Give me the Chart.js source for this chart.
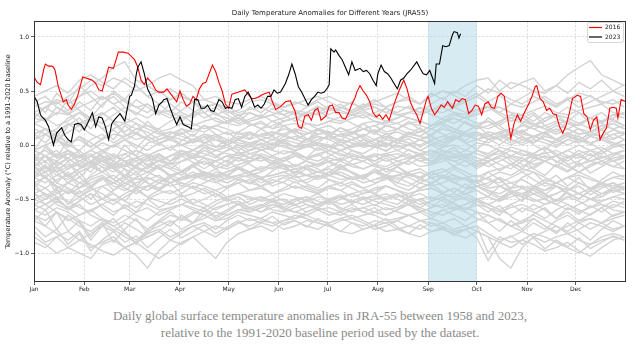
<!DOCTYPE html>
<html><head><meta charset="utf-8">
<script src="https://cdn.jsdelivr.net/npm/chart.js@4.4.0/dist/chart.umd.min.js"></script>
<style>
html,body{margin:0;padding:0;background:#fff;}
#wrap{position:relative;width:640px;height:348px;overflow:hidden;}
#c{position:absolute;left:0;top:0;}
#cap{position:absolute;left:0;top:307px;width:640px;text-align:center;font-family:"Liberation Serif",serif;font-size:13px;line-height:17px;color:#8a8a8a;}
</style></head><body>
<div id="wrap"><canvas id="c" width="640" height="300"></canvas>
<div id="cap">Daily global surface temperature anomalies in JRA-55 between 1958 and 2023,<br>relative to the 1991-2020 baseline period used by the dataset.</div></div>
<script>
const chartTitle = 'Daily Temperature Anomalies for Different Years (JRA55)';
const yAxisTitle = 'Temperature Anomaly (°C) relative to a 1991-2020 baseline';
const monthStarts = [0,31,59,90,120,151,181,212,243,273,304,334];
const monthLabels = ['Jan','Feb','Mar','Apr','May','Jun','Jul','Aug','Sep','Oct','Nov','Dec'];
const yTicks = [-1.0,-0.5,0.0,0.5,1.0];
const spanDays = [243, 273];
const legendOrder = ['2016','2023'];

const days2016 = [0,2,4,6,7,9,11,12,13,15,
17,18,20,21,23,25,27,30,32,34,
36,38,40,42,44,46,49,52,55,58,
60,62,64,66,68,70,73,75,77,80,
82,85,88,90,92,94,96,98,100,102,
104,106,108,110,112,114,116,118,120,122,
124,128,130,132,134,136,138,140,143,145,
147,149,152,155,158,161,163,165,167,169,
171,173,175,177,180,182,184,186,188,190,
192,194,196,198,199,201,203,205,207,209,
211,213,215,217,219,221,223,225,227,228,
230,232,234,236,238,240,242,243,245,247,
249,251,253,255,258,260,262,264,266,268,
270,272,274,276,278,280,282,284,286,288,
290,292,294,296,298,300,302,305,307,309,
310,312,314,316,318,320,322,324,326,328,
330,332,335,337,339,341,343,345,347,349,
351,353,355,357,359,360,362,365];
const anom2016 = [0.63,0.58,0.56,0.70,0.75,0.73,0.73,0.72,0.69,0.54,
0.45,0.40,0.42,0.37,0.33,0.38,0.46,0.63,0.62,0.61,
0.60,0.57,0.51,0.50,0.60,0.72,0.71,0.86,0.86,0.85,
0.82,0.79,0.72,0.60,0.56,0.62,0.57,0.51,0.49,0.49,
0.52,0.46,0.40,0.50,0.42,0.36,0.38,0.45,0.42,0.52,
0.57,0.58,0.66,0.74,0.68,0.58,0.50,0.38,0.34,0.47,
0.48,0.50,0.51,0.47,0.43,0.43,0.44,0.46,0.48,0.49,
0.40,0.33,0.355,0.40,0.41,0.31,0.17,0.155,0.27,0.28,
0.23,0.32,0.34,0.23,0.27,0.36,0.37,0.30,0.30,0.25,
0.24,0.30,0.38,0.44,0.49,0.55,0.50,0.46,0.40,0.30,
0.26,0.28,0.24,0.28,0.23,0.33,0.42,0.50,0.57,0.60,
0.52,0.40,0.33,0.28,0.20,0.31,0.42,0.45,0.34,0.28,
0.32,0.37,0.35,0.40,0.34,0.42,0.40,0.43,0.42,0.29,
0.32,0.37,0.36,0.28,0.38,0.40,0.35,0.34,0.45,0.48,
0.45,0.25,0.06,0.20,0.28,0.22,0.29,0.38,0.45,0.54,
0.55,0.43,0.40,0.32,0.34,0.29,0.28,0.17,0.11,0.18,
0.29,0.43,0.46,0.45,0.29,0.26,0.14,0.23,0.26,0.05,
0.11,0.16,0.34,0.35,0.34,0.25,0.42,0.40];

const days2023 = [0,2,4,5,7,9,12,14,17,19,
21,23,25,27,29,31,33,36,38,40,
42,44,46,48,50,53,56,59,60,62,
63,64,66,68,70,71,73,75,77,79,
80,82,84,86,88,90,92,95,97,99,
101,103,105,107,109,111,114,116,118,120,
122,124,126,128,130,132,134,136,138,140,
142,144,146,148,150,152,155,157,159,161,
163,165,167,169,171,173,175,177,179,181,
182,183,185,186,188,190,192,194,196,198,
201,203,205,207,209,211,212,214,216,218,
220,222,224,226,228,230,232,236,238,240,
242,244,247,248,250,252,254,256,258,259,
261,262,263];
const anom2023 = [0.45,0.40,0.28,0.26,0.23,0.17,0.00,0.11,0.16,0.09,
0.05,0.03,0.19,0.20,0.19,0.14,0.20,0.30,0.17,0.26,
0.25,0.17,0.05,0.20,0.24,0.29,0.22,0.45,0.46,0.55,
0.65,0.72,0.77,0.66,0.52,0.49,0.43,0.29,0.37,0.40,
0.42,0.43,0.34,0.26,0.19,0.26,0.19,0.17,0.15,0.42,
0.42,0.34,0.34,0.37,0.32,0.31,0.42,0.40,0.34,0.35,
0.34,0.42,0.43,0.35,0.45,0.49,0.43,0.35,0.37,0.34,
0.38,0.45,0.45,0.51,0.48,0.49,0.57,0.65,0.75,0.66,
0.54,0.49,0.43,0.37,0.42,0.45,0.49,0.48,0.49,0.53,
0.56,0.89,0.86,0.88,0.83,0.79,0.72,0.65,0.77,0.69,
0.71,0.68,0.69,0.66,0.60,0.55,0.66,0.74,0.68,0.66,
0.62,0.57,0.52,0.60,0.62,0.66,0.69,0.77,0.71,0.66,
0.65,0.69,0.57,0.75,0.75,0.92,0.91,0.92,1.02,1.05,
1.04,0.99,1.03];

// other years (1958-2022), read approximately at weekly resolution
const weekDays = [0,7,14,21,28,35,42,49,56,63,70,77,84,91,98,105,112,119,126,133,140,147,154,161,168,175,182,189,196,203,210,217,224,231,238,245,252,259,266,273,280,287,294,301,308,315,322,329,336,343,350,357,364];
const gray01 = [0.35,0.40,0.38,0.45,0.52,0.60,0.55,0.62,0.58,0.50,0.55,0.48,0.52,0.45,0.40,0.42,0.38,0.35,0.30,0.33,0.35,0.30,0.28,0.32,0.30,0.35,0.33,0.30,0.28,0.32,0.35,0.30,0.36,0.34,0.30,0.32,0.38,0.35,0.30,0.33,0.36,0.30,0.25,0.28,0.22,0.30,0.25,0.20,0.18,0.25,0.22,0.28,0.30];
const gray02 = [0.25,0.22,0.30,0.28,0.35,0.40,0.45,0.38,0.42,0.35,0.30,0.38,0.42,0.45,0.40,0.35,0.38,0.30,0.32,0.40,0.42,0.38,0.35,0.40,0.36,0.42,0.45,0.40,0.38,0.35,0.40,0.44,0.48,0.42,0.38,0.45,0.50,0.46,0.40,0.45,0.52,0.48,0.42,0.38,0.45,0.40,0.35,0.42,0.48,0.45,0.40,0.38,0.42];
const gray03 = [0.45,0.50,0.55,0.48,0.60,0.65,0.58,0.52,0.62,0.55,0.45,0.50,0.42,0.48,0.40,0.35,0.38,0.32,0.28,0.30,0.25,0.28,0.32,0.30,0.26,0.30,0.35,0.32,0.28,0.25,0.30,0.34,0.28,0.30,0.35,0.32,0.30,0.35,0.40,0.45,0.38,0.35,0.30,0.28,0.32,0.36,0.30,0.28,0.32,0.35,0.38,0.30,0.28];
const gray04 = [0.20,0.25,0.18,0.22,0.30,0.25,0.20,0.28,0.35,0.30,0.25,0.32,0.28,0.22,0.30,0.35,0.28,0.25,0.20,0.24,0.28,0.22,0.25,0.30,0.28,0.32,0.25,0.22,0.28,0.30,0.26,0.22,0.25,0.30,0.34,0.28,0.24,0.20,0.26,0.30,0.35,0.28,0.22,0.25,0.18,0.22,0.28,0.25,0.20,0.15,0.22,0.25,0.30];
const gray05 = [0.10,0.15,0.12,0.20,0.18,0.25,0.30,0.22,0.20,0.15,0.18,0.12,0.15,0.20,0.18,0.22,0.25,0.20,0.18,0.22,0.25,0.28,0.22,0.25,0.30,0.28,0.32,0.35,0.30,0.34,0.38,0.35,0.40,0.42,0.38,0.45,0.50,0.48,0.55,0.60,0.62,0.50,0.58,0.55,0.50,0.48,0.55,0.65,0.72,0.78,0.65,0.60,0.55];
const gray06 = [0.15,0.10,0.05,0.12,0.18,0.10,0.05,0.15,0.20,0.25,0.18,0.15,0.22,0.28,0.20,0.15,0.18,0.22,0.25,0.20,0.15,0.18,0.22,0.25,0.20,0.18,0.22,0.26,0.20,0.15,0.18,0.22,0.20,0.15,0.12,0.18,0.22,0.25,0.20,0.15,0.18,0.22,0.28,0.25,0.20,0.15,0.10,0.15,0.20,0.25,0.30,0.22,0.18];
const gray07 = [0.20,0.15,0.08,0.02,0.05,-0.02,0.05,0.10,0.08,0.15,0.12,0.05,0.10,0.15,0.12,0.18,0.15,0.10,0.12,0.18,0.20,0.15,0.22,0.25,0.20,0.18,0.22,0.20,0.25,0.28,0.22,0.20,0.25,0.30,0.28,0.32,0.35,0.30,0.25,0.28,0.32,0.35,0.30,0.22,0.18,0.25,0.28,0.20,0.15,0.12,0.18,0.20,0.15];
const gray08 = [0.25,0.35,0.42,0.38,0.45,0.55,0.62,0.72,0.77,0.60,0.55,0.62,0.66,0.60,0.55,0.42,0.45,0.40,0.38,0.42,0.45,0.40,0.35,0.38,0.42,0.45,0.40,0.35,0.32,0.38,0.35,0.30,0.28,0.25,0.22,0.18,0.20,0.15,0.10,0.12,0.08,0.05,0.10,0.12,0.08,0.05,0.02,0.08,0.05,0.10,0.08,0.05,0.10];
const gray09 = [0.30,0.35,0.40,0.32,0.45,0.50,0.42,0.48,0.40,0.35,0.38,0.30,0.32,0.25,0.28,0.30,0.22,0.20,0.25,0.18,0.22,0.15,0.18,0.20,0.15,0.10,0.12,0.08,0.05,0.10,0.05,0.00,0.05,0.02,-0.05,0.00,-0.05,-0.10,-0.05,-0.08,-0.12,-0.05,-0.10,-0.15,-0.08,-0.02,-0.10,-0.15,-0.08,-0.05,-0.12,-0.08,-0.05];
const gray10 = [-0.05,0.00,0.05,-0.02,0.08,0.02,-0.05,0.00,0.05,0.10,0.05,0.08,0.12,0.10,0.15,0.12,0.18,0.15,0.10,0.12,0.08,0.10,0.15,0.12,0.10,0.15,0.18,0.12,0.15,0.20,0.22,0.18,0.20,0.25,0.22,0.18,0.22,0.28,0.25,0.20,0.22,0.18,0.25,0.20,0.15,0.18,0.22,0.15,0.10,0.12,0.18,0.15,0.10];
const gray11 = [-0.15,-0.10,-0.20,-0.12,-0.05,-0.15,-0.08,0.00,-0.05,-0.10,0.02,0.05,0.08,0.00,0.05,0.10,0.08,0.12,0.05,0.10,0.08,0.05,0.10,0.15,0.12,0.08,0.05,0.10,0.12,0.15,0.10,0.18,0.15,0.10,0.12,0.18,0.20,0.15,0.12,0.18,0.22,0.15,0.10,0.05,0.08,0.12,0.05,0.00,0.05,0.02,-0.05,0.00,0.05];
const gray12 = [0.10,0.15,0.05,0.00,-0.05,0.05,0.10,0.02,0.08,0.12,0.05,0.00,0.08,0.05,0.02,0.05,0.10,0.05,0.02,0.00,0.05,0.08,0.02,-0.02,0.05,0.08,0.05,0.10,0.08,0.02,0.05,0.10,0.12,0.08,0.05,0.10,0.15,0.12,0.08,0.10,0.05,0.08,0.12,0.18,0.15,0.10,0.05,0.10,0.15,0.08,0.05,0.10,0.12];
const gray13 = [0.05,0.10,0.15,0.25,0.30,0.22,0.28,0.35,0.25,0.20,0.15,0.10,0.12,0.08,0.05,0.10,0.05,0.02,0.08,0.05,0.10,0.12,0.08,0.05,0.02,0.08,0.05,0.00,0.05,0.08,0.02,-0.02,0.05,0.08,0.05,0.00,0.05,0.08,0.02,0.05,0.10,0.05,0.00,0.05,0.02,0.08,0.05,0.10,0.08,0.02,0.05,0.00,0.05];
const gray14 = [-0.10,-0.15,-0.08,-0.12,-0.20,-0.15,-0.10,-0.18,-0.12,-0.05,-0.10,-0.05,-0.02,0.00,-0.05,0.02,0.05,0.00,0.05,0.10,0.08,0.12,0.10,0.05,0.10,0.15,0.12,0.08,0.10,0.15,0.18,0.12,0.15,0.20,0.18,0.15,0.20,0.25,0.20,0.18,0.15,0.20,0.28,0.25,0.30,0.22,0.28,0.35,0.30,0.25,0.20,0.28,0.25];
const gray15 = [-0.05,0.00,0.05,-0.05,-0.10,-0.05,0.02,-0.02,0.05,0.00,-0.05,0.02,0.05,0.00,0.03,0.08,0.05,0.00,0.05,0.02,0.00,0.05,0.02,-0.02,0.00,0.05,0.08,0.05,0.02,0.00,0.05,0.08,0.05,0.10,0.08,0.05,0.08,0.12,0.10,0.05,0.08,0.12,0.15,0.10,0.08,0.12,0.18,0.15,0.10,0.12,0.15,0.20,0.15];
const gray16 = [0.40,0.45,0.35,0.30,0.20,0.25,0.15,0.20,0.10,0.05,0.08,0.02,0.05,0.00,0.05,0.02,-0.02,0.00,0.05,0.00,-0.05,0.00,0.02,-0.02,0.00,-0.05,-0.02,0.00,-0.05,-0.08,-0.02,-0.05,0.00,-0.05,-0.08,-0.10,-0.05,-0.08,-0.12,-0.05,-0.10,-0.08,-0.02,-0.05,-0.10,-0.08,-0.05,-0.10,-0.12,-0.05,-0.08,-0.02,0.00];
const gray17 = [-0.30,-0.25,-0.20,-0.28,-0.22,-0.15,-0.20,-0.25,-0.18,-0.12,-0.15,-0.10,-0.15,-0.08,-0.12,-0.05,-0.10,-0.05,0.00,-0.02,0.05,0.00,0.05,0.08,0.05,0.10,0.12,0.08,0.10,0.15,0.12,0.18,0.15,0.20,0.22,0.18,0.25,0.30,0.28,0.32,0.35,0.30,0.38,0.35,0.40,0.45,0.38,0.42,0.35,0.40,0.45,0.50,0.45];
const gray18 = [-0.20,-0.25,-0.15,-0.22,-0.18,-0.10,-0.15,-0.12,-0.08,-0.05,-0.10,-0.05,-0.02,-0.08,-0.05,0.00,-0.05,-0.02,-0.08,-0.05,-0.02,0.02,-0.02,-0.05,0.00,0.02,-0.02,0.05,0.02,-0.02,0.00,0.05,0.02,0.00,0.05,0.02,-0.02,0.05,0.10,0.05,0.08,0.12,0.05,0.02,0.08,0.05,0.00,0.05,0.02,0.08,0.05,0.02,0.00];
const gray19 = [-0.05,-0.10,-0.15,-0.08,-0.12,-0.05,-0.10,-0.15,-0.20,-0.15,-0.10,-0.12,-0.18,-0.15,-0.10,-0.12,-0.15,-0.10,-0.08,-0.12,-0.15,-0.10,-0.05,-0.08,-0.12,-0.10,-0.05,-0.08,-0.12,-0.15,-0.10,-0.08,-0.05,-0.10,-0.15,-0.12,-0.08,-0.05,-0.10,-0.15,-0.20,-0.15,-0.10,-0.12,-0.18,-0.15,-0.20,-0.25,-0.18,-0.15,-0.10,-0.15,-0.12];
const gray20 = [-0.20,-0.30,-0.38,-0.45,-0.35,-0.40,-0.30,-0.35,-0.28,-0.20,-0.25,-0.18,-0.22,-0.28,-0.20,-0.15,-0.22,-0.18,-0.12,-0.15,-0.10,-0.15,-0.12,-0.08,-0.12,-0.15,-0.10,-0.05,-0.10,-0.12,-0.08,-0.10,-0.15,-0.12,-0.08,-0.05,-0.10,-0.15,-0.12,-0.18,-0.15,-0.10,-0.12,-0.18,-0.22,-0.15,-0.10,-0.18,-0.25,-0.20,-0.15,-0.10,-0.05];
const gray21 = [-0.05,-0.10,-0.05,-0.15,-0.10,-0.18,-0.12,-0.08,-0.15,-0.20,-0.12,-0.08,-0.15,-0.10,-0.05,-0.08,-0.12,-0.05,-0.02,-0.08,-0.05,-0.02,0.00,-0.05,-0.02,0.02,0.00,-0.05,-0.02,0.00,0.05,0.02,-0.02,0.00,0.05,0.08,0.02,0.05,0.10,0.05,0.02,0.08,0.05,0.00,0.05,0.02,-0.02,0.05,0.08,0.02,0.05,0.10,0.05];
const gray22 = [-0.10,-0.05,-0.12,-0.08,-0.15,-0.10,-0.05,-0.10,-0.15,-0.20,-0.12,-0.15,-0.10,-0.05,-0.08,-0.12,-0.15,-0.10,-0.12,-0.08,-0.10,-0.15,-0.18,-0.22,-0.20,-0.25,-0.28,-0.22,-0.25,-0.30,-0.25,-0.28,-0.32,-0.28,-0.30,-0.25,-0.30,-0.35,-0.30,-0.28,-0.32,-0.35,-0.30,-0.25,-0.32,-0.38,-0.35,-0.30,-0.28,-0.32,-0.35,-0.30,-0.28];
const gray23 = [-0.20,-0.15,-0.25,-0.20,-0.15,-0.10,-0.18,-0.22,-0.15,-0.20,-0.25,-0.18,-0.22,-0.15,-0.12,-0.18,-0.15,-0.10,-0.15,-0.12,-0.08,-0.12,-0.15,-0.10,-0.12,-0.08,-0.05,-0.10,-0.08,-0.12,-0.10,-0.15,-0.12,-0.08,-0.15,-0.18,-0.12,-0.15,-0.20,-0.15,-0.12,-0.18,-0.22,-0.15,-0.10,-0.15,-0.20,-0.12,-0.08,-0.15,-0.18,-0.12,-0.10];
const gray24 = [-0.15,-0.25,-0.20,-0.30,-0.22,-0.18,-0.25,-0.15,-0.20,-0.12,-0.08,-0.15,-0.10,-0.05,-0.10,-0.02,-0.05,0.00,-0.05,0.02,0.05,0.00,0.05,0.02,0.00,0.05,0.08,0.02,0.05,0.00,-0.02,0.02,-0.05,0.00,-0.05,-0.08,-0.02,0.00,-0.05,0.02,0.00,-0.05,-0.10,-0.05,-0.08,-0.02,-0.08,-0.12,-0.05,-0.10,-0.08,-0.02,0.00];
const gray25 = [-0.25,-0.20,-0.28,-0.22,-0.15,-0.20,-0.25,-0.18,-0.22,-0.28,-0.20,-0.15,-0.20,-0.25,-0.18,-0.15,-0.20,-0.22,-0.18,-0.15,-0.12,-0.18,-0.15,-0.10,-0.15,-0.20,-0.15,-0.12,-0.18,-0.22,-0.18,-0.25,-0.20,-0.28,-0.25,-0.30,-0.28,-0.32,-0.30,-0.35,-0.30,-0.38,-0.35,-0.32,-0.38,-0.42,-0.35,-0.30,-0.35,-0.40,-0.35,-0.30,-0.32];
const gray26 = [-0.25,-0.30,-0.22,-0.18,-0.25,-0.20,-0.15,-0.10,-0.15,-0.12,-0.18,-0.15,-0.10,-0.08,-0.12,-0.10,-0.05,-0.08,-0.10,-0.05,-0.02,-0.05,-0.08,-0.05,-0.02,0.00,-0.02,-0.05,0.00,0.02,-0.02,0.00,0.05,0.02,0.00,0.05,0.08,0.05,0.10,0.08,0.12,0.10,0.15,0.12,0.18,0.15,0.20,0.22,0.18,0.25,0.20,0.15,0.18];
const gray27 = [-0.05,0.00,-0.10,-0.05,-0.12,-0.08,-0.15,-0.20,-0.15,-0.22,-0.25,-0.20,-0.28,-0.25,-0.30,-0.28,-0.32,-0.35,-0.30,-0.35,-0.38,-0.32,-0.35,-0.40,-0.38,-0.42,-0.38,-0.35,-0.40,-0.45,-0.42,-0.38,-0.42,-0.48,-0.45,-0.50,-0.45,-0.40,-0.45,-0.50,-0.55,-0.50,-0.45,-0.48,-0.52,-0.50,-0.45,-0.40,-0.45,-0.50,-0.48,-0.42,-0.45];
const gray28 = [-0.30,-0.35,-0.28,-0.32,-0.25,-0.20,-0.15,-0.22,-0.18,-0.25,-0.20,-0.22,-0.28,-0.25,-0.20,-0.25,-0.30,-0.25,-0.22,-0.28,-0.25,-0.20,-0.22,-0.18,-0.22,-0.25,-0.20,-0.15,-0.20,-0.22,-0.18,-0.20,-0.15,-0.18,-0.12,-0.15,-0.10,-0.12,-0.08,-0.12,-0.15,-0.10,-0.05,-0.08,-0.12,-0.15,-0.10,-0.05,-0.10,-0.15,-0.12,-0.08,-0.10];
const gray29 = [-0.30,-0.20,-0.25,-0.35,-0.40,-0.32,-0.28,-0.35,-0.30,-0.38,-0.42,-0.35,-0.30,-0.35,-0.40,-0.35,-0.30,-0.28,-0.32,-0.35,-0.30,-0.28,-0.25,-0.30,-0.28,-0.25,-0.22,-0.28,-0.32,-0.30,-0.35,-0.32,-0.28,-0.30,-0.35,-0.38,-0.35,-0.30,-0.32,-0.35,-0.40,-0.38,-0.42,-0.45,-0.40,-0.35,-0.38,-0.45,-0.50,-0.42,-0.38,-0.35,-0.40];
const gray30 = [-0.55,-0.50,-0.45,-0.40,-0.48,-0.42,-0.38,-0.35,-0.40,-0.45,-0.38,-0.32,-0.35,-0.30,-0.28,-0.32,-0.25,-0.28,-0.22,-0.25,-0.20,-0.22,-0.18,-0.20,-0.15,-0.18,-0.12,-0.15,-0.10,-0.12,-0.15,-0.10,-0.08,-0.12,-0.10,-0.05,-0.08,-0.12,-0.10,-0.05,-0.08,-0.02,-0.05,-0.10,-0.08,-0.12,-0.10,-0.05,0.00,-0.05,-0.02,-0.08,-0.05];
const gray31 = [-0.35,-0.40,-0.32,-0.28,-0.35,-0.30,-0.25,-0.32,-0.38,-0.30,-0.35,-0.40,-0.35,-0.30,-0.28,-0.32,-0.35,-0.30,-0.28,-0.25,-0.30,-0.28,-0.25,-0.22,-0.28,-0.30,-0.25,-0.28,-0.32,-0.28,-0.25,-0.22,-0.25,-0.28,-0.30,-0.25,-0.22,-0.28,-0.32,-0.35,-0.30,-0.25,-0.28,-0.22,-0.25,-0.30,-0.35,-0.30,-0.25,-0.30,-0.35,-0.40,-0.35];
const gray32 = [-0.30,-0.25,-0.35,-0.40,-0.45,-0.38,-0.50,-0.42,-0.35,-0.40,-0.32,-0.28,-0.35,-0.30,-0.25,-0.30,-0.28,-0.25,-0.20,-0.25,-0.22,-0.18,-0.22,-0.25,-0.20,-0.18,-0.15,-0.20,-0.18,-0.15,-0.20,-0.22,-0.18,-0.15,-0.20,-0.18,-0.15,-0.10,-0.15,-0.20,-0.15,-0.12,-0.18,-0.20,-0.15,-0.10,-0.15,-0.20,-0.25,-0.18,-0.15,-0.20,-0.22];
const gray33 = [-0.15,-0.10,-0.18,-0.12,-0.20,-0.15,-0.25,-0.20,-0.28,-0.32,-0.30,-0.35,-0.38,-0.35,-0.40,-0.45,-0.42,-0.48,-0.45,-0.50,-0.48,-0.52,-0.50,-0.55,-0.52,-0.48,-0.50,-0.55,-0.52,-0.48,-0.52,-0.55,-0.58,-0.52,-0.50,-0.55,-0.58,-0.52,-0.48,-0.52,-0.55,-0.60,-0.55,-0.50,-0.45,-0.50,-0.55,-0.48,-0.45,-0.50,-0.52,-0.48,-0.45];
const gray34 = [-0.45,-0.50,-0.42,-0.55,-0.48,-0.40,-0.45,-0.52,-0.45,-0.40,-0.38,-0.42,-0.45,-0.40,-0.35,-0.38,-0.42,-0.38,-0.35,-0.32,-0.38,-0.35,-0.30,-0.35,-0.32,-0.28,-0.32,-0.35,-0.30,-0.28,-0.25,-0.30,-0.28,-0.25,-0.22,-0.28,-0.25,-0.20,-0.25,-0.30,-0.25,-0.22,-0.18,-0.25,-0.20,-0.15,-0.10,-0.18,-0.15,-0.08,-0.15,-0.20,-0.15];
const gray35 = [-0.25,-0.30,-0.38,-0.45,-0.40,-0.35,-0.30,-0.38,-0.42,-0.35,-0.30,-0.35,-0.28,-0.32,-0.30,-0.25,-0.28,-0.32,-0.28,-0.30,-0.35,-0.30,-0.28,-0.32,-0.35,-0.30,-0.28,-0.32,-0.30,-0.35,-0.32,-0.30,-0.35,-0.38,-0.32,-0.35,-0.30,-0.35,-0.40,-0.38,-0.42,-0.45,-0.40,-0.38,-0.42,-0.48,-0.45,-0.40,-0.45,-0.50,-0.45,-0.42,-0.40];
const gray36 = [-0.55,-0.60,-0.52,-0.58,-0.65,-0.60,-0.55,-0.62,-0.58,-0.52,-0.55,-0.60,-0.58,-0.55,-0.50,-0.55,-0.60,-0.55,-0.52,-0.58,-0.55,-0.60,-0.62,-0.58,-0.55,-0.60,-0.65,-0.62,-0.58,-0.62,-0.65,-0.70,-0.68,-0.65,-0.70,-0.75,-0.72,-0.68,-0.75,-0.80,-0.85,-1.05,-1.14,-0.95,-0.85,-0.80,-0.75,-0.82,-0.78,-0.72,-0.75,-0.80,-0.75];
const gray37 = [-0.70,-0.75,-0.82,-0.88,-0.80,-0.95,-0.90,-0.85,-0.95,-1.02,-1.14,-0.98,-0.88,-0.82,-0.75,-0.72,-0.78,-0.70,-0.65,-0.70,-0.68,-0.62,-0.65,-0.68,-0.62,-0.58,-0.62,-0.65,-0.60,-0.58,-0.62,-0.65,-0.60,-0.55,-0.58,-0.62,-0.65,-0.60,-0.58,-0.62,-0.65,-0.70,-0.75,-0.70,-0.65,-0.70,-0.75,-0.80,-0.72,-0.68,-0.72,-0.78,-0.75];
const gray38 = [-0.80,-0.90,-0.85,-0.95,-1.00,-1.05,-0.92,-0.88,-0.95,-0.90,-0.85,-0.80,-0.88,-0.92,-0.85,-0.95,-1.05,-0.90,-0.82,-0.78,-0.75,-0.80,-0.72,-0.70,-0.75,-0.78,-0.72,-0.68,-0.72,-0.75,-0.70,-0.72,-0.78,-0.75,-0.70,-0.72,-0.78,-0.82,-0.78,-0.75,-1.00,-0.85,-0.90,-0.88,-0.82,-0.85,-0.90,-0.95,-1.00,-0.92,-0.88,-0.85,-0.88];
const gray39 = [-0.65,-0.70,-0.62,-0.68,-0.75,-0.80,-0.72,-0.78,-0.85,-0.90,-0.82,-0.78,-0.85,-0.80,-0.75,-0.80,-0.85,-0.78,-0.72,-0.75,-0.70,-0.72,-0.78,-0.75,-0.70,-0.72,-0.75,-0.80,-0.82,-0.78,-0.75,-0.80,-0.78,-0.82,-0.85,-0.80,-0.78,-0.82,-0.86,-0.80,-0.85,-0.90,-0.95,-0.88,-0.92,-0.98,-0.95,-0.90,-0.98,-1.03,-0.95,-0.88,-0.85];
const gray40 = [-0.60,-0.65,-0.58,-0.62,-0.70,-0.75,-0.68,-0.72,-0.65,-0.70,-0.78,-0.72,-0.65,-0.68,-0.62,-0.65,-0.70,-0.65,-0.60,-0.62,-0.58,-0.55,-0.60,-0.62,-0.58,-0.55,-0.52,-0.58,-0.62,-0.58,-0.55,-0.60,-0.58,-0.55,-0.60,-0.65,-0.60,-0.58,-0.62,-0.68,-0.72,-0.68,-0.75,-0.80,-0.72,-0.78,-0.70,-0.65,-0.72,-0.78,-0.72,-0.68,-0.65];
const gray41 = [-0.50,-0.55,-0.62,-0.70,-0.65,-0.60,-0.68,-0.75,-0.70,-0.62,-0.58,-0.65,-0.60,-0.55,-0.58,-0.62,-0.55,-0.50,-0.55,-0.52,-0.48,-0.52,-0.55,-0.50,-0.48,-0.52,-0.55,-0.50,-0.45,-0.50,-0.48,-0.45,-0.50,-0.55,-0.50,-0.48,-0.52,-0.58,-0.55,-0.50,-0.55,-0.60,-0.65,-0.58,-0.62,-0.68,-0.60,-0.55,-0.62,-0.58,-0.55,-0.60,-0.62];
const gray42 = [-0.90,-0.95,-0.85,-0.80,-0.88,-0.82,-0.75,-0.80,-0.72,-0.78,-0.85,-0.80,-0.72,-0.68,-0.72,-0.65,-0.70,-0.68,-0.62,-0.65,-0.68,-0.72,-0.70,-0.65,-0.68,-0.72,-0.75,-0.70,-0.68,-0.72,-0.78,-0.75,-0.70,-0.65,-0.62,-0.58,-0.55,-0.60,-0.55,-0.50,-0.48,-0.52,-0.45,-0.40,-0.45,-0.42,-0.38,-0.42,-0.35,-0.40,-0.45,-0.40,-0.38];
const gray43 = [-0.50,-0.45,-0.55,-0.60,-0.55,-0.65,-0.70,-0.75,-0.82,-0.88,-0.80,-0.75,-0.70,-0.78,-0.72,-0.68,-0.62,-0.65,-0.60,-0.58,-0.62,-0.55,-0.58,-0.62,-0.65,-0.60,-0.58,-0.62,-0.68,-0.65,-0.62,-0.58,-0.62,-0.65,-0.70,-0.68,-0.72,-0.78,-0.75,-0.70,-0.65,-0.70,-0.75,-0.72,-0.68,-0.75,-0.80,-0.75,-0.70,-0.68,-0.72,-0.65,-0.62];
const gray44 = [-0.45,-0.40,-0.48,-0.52,-0.58,-0.62,-0.55,-0.50,-0.58,-0.65,-0.70,-0.62,-0.58,-0.55,-0.60,-0.65,-0.58,-0.55,-0.52,-0.58,-0.62,-0.58,-0.55,-0.50,-0.55,-0.58,-0.52,-0.48,-0.52,-0.55,-0.50,-0.48,-0.45,-0.50,-0.55,-0.52,-0.48,-0.45,-0.50,-0.55,-0.58,-0.62,-0.58,-0.55,-0.60,-0.55,-0.50,-0.55,-0.60,-0.65,-0.58,-0.52,-0.55];
const gray45 = [-0.40,-0.45,-0.50,-0.42,-0.48,-0.55,-0.50,-0.45,-0.52,-0.58,-0.50,-0.45,-0.42,-0.48,-0.45,-0.40,-0.45,-0.50,-0.45,-0.42,-0.40,-0.45,-0.42,-0.38,-0.42,-0.45,-0.40,-0.42,-0.48,-0.45,-0.40,-0.38,-0.42,-0.45,-0.42,-0.40,-0.45,-0.50,-0.45,-0.42,-0.48,-0.52,-0.48,-0.45,-0.50,-0.55,-0.52,-0.48,-0.52,-0.58,-0.52,-0.48,-0.50];
const gray46 = [-0.60,-0.55,-0.50,-0.58,-0.52,-0.45,-0.50,-0.55,-0.48,-0.42,-0.48,-0.52,-0.55,-0.50,-0.55,-0.58,-0.52,-0.48,-0.45,-0.48,-0.52,-0.50,-0.45,-0.48,-0.52,-0.55,-0.50,-0.48,-0.45,-0.42,-0.45,-0.50,-0.48,-0.45,-0.42,-0.40,-0.45,-0.48,-0.42,-0.38,-0.42,-0.48,-0.45,-0.40,-0.45,-0.50,-0.55,-0.60,-0.55,-0.50,-0.55,-0.58,-0.52];
const gray47 = [-0.35,-0.30,-0.40,-0.35,-0.30,-0.38,-0.32,-0.28,-0.35,-0.30,-0.25,-0.30,-0.35,-0.32,-0.28,-0.25,-0.30,-0.35,-0.30,-0.28,-0.32,-0.35,-0.30,-0.25,-0.28,-0.32,-0.28,-0.25,-0.30,-0.35,-0.32,-0.28,-0.30,-0.35,-0.40,-0.35,-0.30,-0.28,-0.32,-0.38,-0.35,-0.30,-0.35,-0.40,-0.38,-0.32,-0.35,-0.40,-0.45,-0.40,-0.35,-0.38,-0.35];
const gray48 = [-0.85,-0.92,-1.00,-0.95,-0.88,-0.92,-0.98,-1.02,-0.95,-0.90,-0.98,-1.05,-0.98,-0.90,-0.85,-0.80,-0.75,-0.78,-0.72,-0.68,-0.72,-0.75,-0.70,-0.68,-0.65,-0.70,-0.72,-0.68,-0.65,-0.70,-0.75,-0.72,-0.70,-0.75,-0.78,-0.72,-0.75,-0.80,-0.78,-0.75,-0.82,-0.88,-0.85,-0.80,-0.85,-0.90,-0.85,-0.82,-0.88,-0.92,-0.85,-0.82,-0.85];
const gray49 = [0.30,0.22,0.35,0.28,0.40,0.32,0.45,0.38,0.30,0.42,0.35,0.28,0.38,0.30,0.25,0.35,0.28,0.32,0.25,0.35,0.30,0.38,0.32,0.28,0.35,0.40,0.33,0.38,0.30,0.36,0.42,0.35,0.40,0.45,0.38,0.48,0.42,0.50,0.45,0.55,0.48,0.60,0.52,0.58,0.62,0.50,0.55,0.48,0.58,0.52,0.60,0.50,0.56];
const gray50 = [0.05,0.15,0.08,0.20,0.12,0.25,0.15,0.05,0.18,0.10,0.22,0.12,0.05,0.15,0.08,0.18,0.10,0.02,0.12,0.06,0.15,0.08,0.18,0.10,0.04,0.14,0.08,0.16,0.10,0.20,0.12,0.06,0.15,0.22,0.14,0.08,0.18,0.12,0.22,0.15,0.25,0.18,0.10,0.20,0.28,0.18,0.12,0.22,0.30,0.20,0.14,0.24,0.18];
const gray51 = [-0.15,-0.02,-0.12,0.05,-0.08,-0.18,-0.05,-0.15,0.00,-0.10,-0.20,-0.08,-0.15,-0.05,-0.12,-0.02,-0.10,-0.16,-0.06,-0.12,-0.04,-0.10,-0.15,-0.06,-0.12,-0.02,-0.08,-0.14,-0.05,-0.10,-0.15,-0.08,-0.12,-0.04,-0.10,-0.16,-0.08,-0.02,-0.12,-0.18,-0.10,-0.05,-0.15,-0.22,-0.12,-0.06,-0.16,-0.10,-0.20,-0.12,-0.05,-0.15,-0.10];
const gray52 = [-0.30,-0.18,-0.35,-0.25,-0.40,-0.28,-0.20,-0.32,-0.22,-0.38,-0.28,-0.20,-0.30,-0.25,-0.18,-0.28,-0.22,-0.30,-0.20,-0.26,-0.32,-0.24,-0.18,-0.28,-0.22,-0.30,-0.25,-0.18,-0.26,-0.32,-0.24,-0.28,-0.20,-0.26,-0.32,-0.25,-0.30,-0.22,-0.28,-0.35,-0.25,-0.32,-0.40,-0.30,-0.25,-0.35,-0.28,-0.38,-0.30,-0.42,-0.32,-0.25,-0.30];
const gray53 = [-0.35,-0.48,-0.40,-0.55,-0.42,-0.50,-0.38,-0.45,-0.52,-0.40,-0.48,-0.42,-0.35,-0.45,-0.38,-0.42,-0.48,-0.40,-0.35,-0.42,-0.38,-0.45,-0.40,-0.34,-0.40,-0.44,-0.38,-0.42,-0.36,-0.40,-0.45,-0.38,-0.42,-0.48,-0.40,-0.36,-0.44,-0.40,-0.46,-0.38,-0.44,-0.50,-0.42,-0.48,-0.40,-0.46,-0.52,-0.44,-0.50,-0.42,-0.48,-0.40,-0.45];
const gray54 = [-0.65,-0.75,-0.62,-0.80,-0.70,-0.85,-0.72,-0.90,-0.78,-0.68,-0.82,-0.70,-0.75,-0.65,-0.72,-0.60,-0.68,-0.62,-0.55,-0.62,-0.58,-0.52,-0.60,-0.55,-0.62,-0.58,-0.52,-0.60,-0.55,-0.62,-0.58,-0.65,-0.60,-0.55,-0.62,-0.68,-0.60,-0.65,-0.70,-0.62,-0.72,-0.80,-0.70,-0.78,-0.68,-0.75,-0.82,-0.72,-0.80,-0.88,-0.78,-0.70,-0.75];
const gray55 = [-0.05,0.10,0.02,0.18,0.25,0.15,0.30,0.22,0.12,0.20,0.08,0.15,0.05,0.12,0.02,0.08,-0.02,0.05,0.00,-0.05,0.02,-0.04,0.04,-0.02,0.06,0.00,-0.05,0.03,-0.02,0.05,0.00,-0.06,0.02,0.06,-0.02,0.04,0.00,0.08,0.02,-0.04,0.05,0.10,0.02,0.08,0.00,-0.05,0.05,0.12,0.05,0.00,0.08,0.02,-0.03];
const gray56 = [-0.10,-0.22,-0.15,-0.05,-0.18,-0.25,-0.12,-0.20,-0.08,-0.15,-0.22,-0.14,-0.18,-0.10,-0.16,-0.22,-0.15,-0.20,-0.12,-0.18,-0.24,-0.16,-0.20,-0.26,-0.18,-0.22,-0.28,-0.20,-0.25,-0.30,-0.22,-0.28,-0.35,-0.26,-0.30,-0.36,-0.28,-0.34,-0.40,-0.32,-0.38,-0.30,-0.42,-0.48,-0.38,-0.45,-0.52,-0.42,-0.38,-0.46,-0.40,-0.35,-0.42];
const gray57 = [-0.45,-0.55,-0.48,-0.60,-0.52,-0.45,-0.58,-0.65,-0.55,-0.62,-0.50,-0.58,-0.52,-0.46,-0.54,-0.50,-0.45,-0.52,-0.48,-0.55,-0.50,-0.46,-0.52,-0.56,-0.50,-0.45,-0.52,-0.48,-0.54,-0.50,-0.46,-0.52,-0.55,-0.48,-0.52,-0.58,-0.50,-0.55,-0.60,-0.52,-0.58,-0.65,-0.55,-0.62,-0.55,-0.60,-0.68,-0.58,-0.64,-0.56,-0.62,-0.55,-0.58];
const gray58 = [0.25,0.35,0.28,0.42,0.32,0.25,0.38,0.45,0.35,0.28,0.38,0.30,0.25,0.32,0.40,0.30,0.35,0.28,0.22,0.30,0.26,0.34,0.28,0.22,0.30,0.36,0.28,0.34,0.40,0.32,0.26,0.34,0.30,0.36,0.30,0.38,0.44,0.36,0.42,0.48,0.40,0.46,0.38,0.44,0.50,0.42,0.36,0.44,0.40,0.46,0.38,0.42,0.35];
const gray59 = [-0.40,-0.28,-0.45,-0.35,-0.25,-0.38,-0.30,-0.42,-0.32,-0.25,-0.35,-0.42,-0.30,-0.38,-0.32,-0.26,-0.34,-0.40,-0.32,-0.36,-0.30,-0.38,-0.34,-0.28,-0.36,-0.40,-0.32,-0.38,-0.34,-0.40,-0.36,-0.30,-0.38,-0.42,-0.35,-0.30,-0.38,-0.44,-0.36,-0.42,-0.48,-0.38,-0.44,-0.52,-0.40,-0.46,-0.38,-0.45,-0.50,-0.42,-0.36,-0.44,-0.40];
const gray60 = [-0.75,-0.85,-0.78,-0.92,-0.82,-0.98,-0.88,-0.80,-0.90,-0.84,-0.95,-0.86,-0.78,-0.86,-0.80,-0.74,-0.82,-0.76,-0.70,-0.78,-0.72,-0.66,-0.74,-0.70,-0.76,-0.68,-0.74,-0.80,-0.72,-0.78,-0.74,-0.68,-0.76,-0.82,-0.74,-0.80,-0.76,-0.84,-0.78,-0.86,-1.07,-0.90,-0.84,-0.92,-0.86,-0.96,-0.88,-0.94,-0.86,-0.96,-0.90,-0.84,-0.88];
const gray61 = [0.10,0.02,0.12,0.00,0.08,-0.02,0.06,0.14,0.05,-0.03,0.08,0.02,-0.05,0.04,0.10,0.02,0.08,0.00,0.06,0.12,0.05,0.00,0.08,0.14,0.06,0.02,0.10,0.04,0.12,0.06,0.00,0.08,0.02,0.10,0.16,0.08,0.02,0.10,0.04,0.12,0.06,0.00,0.08,0.14,0.06,0.12,0.04,0.10,0.02,0.08,0.14,0.06,0.10];
const gray62 = [-0.20,-0.10,-0.25,-0.15,-0.30,-0.20,-0.12,-0.22,-0.30,-0.18,-0.12,-0.22,-0.16,-0.24,-0.18,-0.12,-0.20,-0.14,-0.22,-0.16,-0.10,-0.18,-0.12,-0.20,-0.14,-0.08,-0.16,-0.22,-0.14,-0.10,-0.18,-0.12,-0.20,-0.14,-0.08,-0.16,-0.12,-0.20,-0.14,-0.22,-0.16,-0.24,-0.18,-0.12,-0.22,-0.28,-0.18,-0.24,-0.16,-0.26,-0.20,-0.14,-0.22];
const gray63 = [-0.70,-0.60,-0.78,-0.65,-0.72,-0.88,-0.75,-0.68,-0.80,-0.92,-0.78,-0.70,-0.62,-0.70,-0.64,-0.58,-0.66,-0.60,-0.54,-0.60,-0.56,-0.50,-0.58,-0.52,-0.48,-0.56,-0.50,-0.46,-0.54,-0.50,-0.56,-0.50,-0.46,-0.52,-0.58,-0.52,-0.48,-0.54,-0.60,-0.55,-0.62,-0.56,-0.66,-0.72,-0.64,-0.58,-0.68,-0.62,-0.70,-0.64,-0.58,-0.66,-0.62];
const gray64 = [0.40,0.30,0.48,0.38,0.55,0.45,0.35,0.50,0.42,0.55,0.45,0.38,0.30,0.40,0.32,0.25,0.30,0.22,0.28,0.20,0.15,0.22,0.18,0.12,0.20,0.15,0.10,0.16,0.12,0.08,0.14,0.10,0.05,0.12,0.08,0.15,0.10,0.05,0.12,0.18,0.10,0.05,0.12,0.08,0.02,0.10,0.15,0.08,0.04,0.12,0.08,0.14,0.10];

const grayLines = [gray01,gray02,gray03,gray04,gray05,gray06,gray07,gray08,gray09,gray10,gray11,gray12,gray13,gray14,gray15,gray16,gray17,gray18,gray19,gray20,gray21,gray22,gray23,gray24,gray25,gray26,gray27,gray28,gray29,gray30,gray31,gray32,gray33,gray34,gray35,gray36,gray37,gray38,gray39,gray40,gray41,gray42,gray43,gray44,gray45,gray46,gray47,gray48,gray49,gray50,gray51,gray52,gray53,gray54,gray55,gray56,gray57,gray58,gray59,gray60,gray61,gray62,gray63,gray64];

const FONT = 'DejaVu Sans';
const toPts = (xs, ys) => ys.map((y, i) => ({x: xs[i], y})).filter(p => p.x !== undefined);

const datasets = [
  {label: '2023', data: toPts(days2023, anom2023), borderColor: '#000000', borderWidth: 1.1},
  {label: '2016', data: toPts(days2016, anom2016), borderColor: '#ff0000', borderWidth: 1.1},
  ...grayLines.map(g => ({label: '', data: toPts(weekDays, g), borderColor: '#d3d3d3', borderWidth: 1.4}))
];

const decor = {
  id: 'decor',
  beforeDatasetDraw(chart, args) {
    if (args.index !== 1) return;
    const {ctx, chartArea: a, scales: {x}} = chart;
    const x0 = x.getPixelForValue(spanDays[0]), x1 = x.getPixelForValue(spanDays[1]);
    ctx.save();
    ctx.fillStyle = 'rgba(173,216,230,0.5)';
    ctx.fillRect(x0, a.top, x1 - x0, a.bottom - a.top);
    ctx.restore();
  },
  afterDraw(chart) {
    const {ctx, chartArea: a} = chart;
    ctx.save();
    ctx.strokeStyle = '#333';
    ctx.lineWidth = 1;
    ctx.strokeRect(a.left + 0.5, a.top + 0.5, a.right - a.left - 1, a.bottom - a.top - 1);
    ctx.fillStyle = '#222';
    ctx.font = '7px "' + FONT + '"';
    ctx.textAlign = 'center';
    ctx.textBaseline = 'middle';
    ctx.fillText(chartTitle, (a.left + a.right) / 2, 13);
    const lw = 36, lh = 20, lx = a.right - 3 - lw, ly = a.top + 1;
    ctx.beginPath();
    ctx.roundRect(lx + 0.5, ly + 0.5, lw, lh, 2);
    ctx.fillStyle = 'rgba(255,255,255,0.85)';
    ctx.fill();
    ctx.strokeStyle = '#cccccc';
    ctx.lineWidth = 0.8;
    ctx.stroke();
    ctx.font = '6px "' + FONT + '"';
    ctx.textAlign = 'left';
    legendOrder.forEach((lab, i) => {
      const ds = chart.data.datasets.find(d => d.label === lab);
      const yy = ly + 5.5 + i * 9.5;
      ctx.strokeStyle = ds.borderColor;
      ctx.lineWidth = 1.2;
      ctx.beginPath();
      ctx.moveTo(lx + 2, yy); ctx.lineTo(lx + 15, yy); ctx.stroke();
      ctx.fillStyle = '#222';
      ctx.fillText(lab, lx + 18, yy);
    });
    ctx.restore();
  }
};

new Chart(document.getElementById('c'), {
  type: 'line',
  data: {datasets},
  options: {
    responsive: false,
    animation: false,
    events: [],
    elements: {point: {radius: 0}, line: {tension: 0, fill: false}},
    layout: {padding: {left: 0, right: 14, top: 21, bottom: 0}},
    plugins: {legend: {display: false}, title: {display: false}, tooltip: {enabled: false}},
    scales: {
      x: {
        type: 'linear', min: 0, max: 365,
        afterBuildTicks: s => { s.ticks = monthStarts.map(v => ({value: v})); },
        afterFit: s => { s.height = 18; },
        ticks: {autoSkip: false, maxRotation: 0, padding: 1, color: '#222', font: {family: FONT, size: 6},
                callback: v => monthLabels[monthStarts.indexOf(v)]},
        grid: {color: '#d6d6d6', lineWidth: 0.8, tickLength: 3, tickColor: '#333', tickWidth: 0.8},
        border: {display: false, dash: [2.5, 1.5]}
      },
      y: {
        min: -1.268, max: 1.148,
        afterBuildTicks: s => { s.ticks = yTicks.map(v => ({value: v})); },
        afterFit: s => { s.width = 34; },
        ticks: {padding: 2, color: '#222', font: {family: FONT, size: 6},
                callback: v => (v < 0 ? '\u2212' : '') + Math.abs(v).toFixed(1)},
        title: {display: true, text: yAxisTitle, color: '#222', font: {family: FONT, size: 6.5}, padding: {top: 4, bottom: 0}},
        grid: {color: '#d6d6d6', lineWidth: 0.8, tickLength: 3, tickColor: '#333', tickWidth: 0.8},
        border: {display: false, dash: [2.5, 1.5]}
      }
    }
  },
  plugins: [decor]
});
</script>
</body></html>
